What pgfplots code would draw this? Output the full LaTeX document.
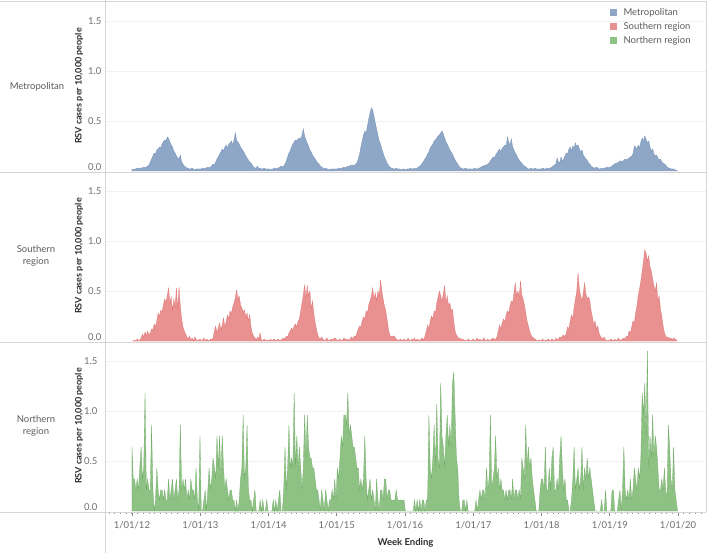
\documentclass[border=0pt]{standalone}
\usepackage{fontspec}
\setmainfont{Lato}
\usepackage{pgfplots}
\usepackage{pgfplotstable}
\pgfplotsset{compat=1.18}

\definecolor{metrofill}{RGB}{143,167,199}
\definecolor{metroline}{RGB}{118,145,182}
\definecolor{southfill}{RGB}{233,145,144}
\definecolor{southline}{RGB}{224,118,118}
\definecolor{northfill}{RGB}{142,194,133}
\definecolor{northline}{RGB}{112,172,102}
\definecolor{sepgray}{RGB}{214,214,214}
\definecolor{gridgray}{RGB}{242,242,242}
\definecolor{ticktext}{RGB}{110,110,110}
\definecolor{labeltext}{RGB}{90,90,90}
\definecolor{titletext}{RGB}{45,45,45}

% weekly values, week 0 = 1/01/12
\pgfplotstableread[header=false,row sep=\\]{
0.02\\0.01\\0.02\\0.02\\0.03\\0.02\\0.03\\0.03\\0.03\\0.04\\0.03\\0.04\\0.05\\0.06\\0.09\\0.12\\0.15\\0.18\\0.17\\0.21\\0.22\\0.24\\0.23\\0.27\\0.29\\0.31\\0.30\\0.34\\0.33\\0.29\\0.26\\0.24\\0.20\\0.18\\0.15\\0.13\\0.12\\0.16\\0.09\\0.07\\0.05\\0.04\\0.03\\0.03\\0.02\\0.02\\0.03\\0.02\\0.01\\0.02\\0.02\\0.02\\
0.02\\0.02\\0.03\\0.02\\0.03\\0.03\\0.04\\0.03\\0.04\\0.05\\0.07\\0.06\\0.09\\0.12\\0.14\\0.17\\0.19\\0.22\\0.20\\0.24\\0.26\\0.23\\0.27\\0.28\\0.30\\0.26\\0.31\\0.38\\0.31\\0.29\\0.27\\0.24\\0.22\\0.20\\0.18\\0.15\\0.13\\0.11\\0.09\\0.08\\0.06\\0.04\\0.03\\0.03\\0.05\\0.02\\0.03\\0.02\\0.02\\0.03\\0.02\\0.02\\
0.02\\0.02\\0.01\\0.02\\0.02\\0.03\\0.02\\0.03\\0.03\\0.04\\0.05\\0.04\\0.05\\0.07\\0.10\\0.14\\0.18\\0.20\\0.24\\0.27\\0.29\\0.31\\0.30\\0.32\\0.33\\0.32\\0.36\\0.42\\0.35\\0.31\\0.28\\0.25\\0.21\\0.19\\0.16\\0.14\\0.12\\0.10\\0.08\\0.07\\0.05\\0.04\\0.03\\0.02\\0.03\\0.02\\0.02\\0.01\\0.02\\0.02\\0.02\\0.02\\
0.02\\0.02\\0.03\\0.02\\0.03\\0.03\\0.04\\0.03\\0.04\\0.05\\0.04\\0.06\\0.05\\0.06\\0.05\\0.07\\0.08\\0.12\\0.17\\0.24\\0.30\\0.36\\0.40\\0.38\\0.45\\0.52\\0.58\\0.63\\0.61\\0.55\\0.48\\0.42\\0.36\\0.30\\0.27\\0.22\\0.18\\0.14\\0.11\\0.08\\0.06\\0.04\\0.03\\0.03\\0.02\\0.02\\0.03\\0.02\\0.02\\0.02\\0.01\\0.02\\
0.02\\0.01\\0.02\\0.02\\0.02\\0.03\\0.02\\0.02\\0.03\\0.02\\0.03\\0.04\\0.05\\0.06\\0.08\\0.10\\0.12\\0.14\\0.17\\0.19\\0.23\\0.25\\0.27\\0.30\\0.31\\0.33\\0.35\\0.36\\0.38\\0.40\\0.37\\0.33\\0.29\\0.27\\0.24\\0.21\\0.19\\0.17\\0.14\\0.11\\0.09\\0.07\\0.05\\0.03\\0.03\\0.02\\0.02\\0.03\\0.02\\0.02\\0.02\\0.02\\
0.02\\0.02\\0.03\\0.02\\0.02\\0.03\\0.03\\0.04\\0.05\\0.05\\0.06\\0.06\\0.07\\0.08\\0.10\\0.12\\0.14\\0.13\\0.16\\0.18\\0.20\\0.22\\0.19\\0.23\\0.24\\0.26\\0.25\\0.34\\0.29\\0.26\\0.32\\0.24\\0.21\\0.18\\0.16\\0.13\\0.11\\0.09\\0.08\\0.06\\0.05\\0.04\\0.03\\0.02\\0.02\\0.03\\0.02\\0.02\\0.03\\0.02\\0.02\\0.02\\
0.02\\0.02\\0.03\\0.02\\0.02\\0.03\\0.02\\0.03\\0.03\\0.04\\0.05\\0.06\\0.07\\0.13\\0.09\\0.08\\0.14\\0.10\\0.12\\0.15\\0.18\\0.17\\0.22\\0.24\\0.20\\0.25\\0.23\\0.28\\0.24\\0.26\\0.22\\0.19\\0.21\\0.16\\0.14\\0.12\\0.11\\0.08\\0.07\\0.05\\0.04\\0.03\\0.03\\0.04\\0.03\\0.02\\0.02\\0.03\\0.02\\0.03\\0.03\\0.04\\
0.03\\0.04\\0.04\\0.05\\0.06\\0.07\\0.08\\0.08\\0.09\\0.10\\0.10\\0.09\\0.11\\0.12\\0.11\\0.12\\0.13\\0.14\\0.15\\0.17\\0.25\\0.24\\0.22\\0.26\\0.23\\0.29\\0.33\\0.30\\0.35\\0.32\\0.28\\0.30\\0.24\\0.20\\0.22\\0.17\\0.15\\0.16\\0.13\\0.11\\0.12\\0.09\\0.08\\0.07\\0.06\\0.04\\0.03\\0.03\\0.02\\0.02\\0.02\\0.01\\0.01\\0.0\\
}\metro

\pgfplotstableread[header=false,row sep=\\]{
0.0\\0.0\\0.01\\0.0\\0.02\\0.0\\0.01\\0.03\\0.07\\0.04\\0.09\\0.05\\0.10\\0.06\\0.08\\0.12\\0.11\\0.17\\0.14\\0.20\\0.28\\0.24\\0.31\\0.29\\0.36\\0.42\\0.39\\0.45\\0.53\\0.38\\0.44\\0.30\\0.42\\0.34\\0.53\\0.31\\0.54\\0.35\\0.22\\0.14\\0.10\\0.07\\0.04\\0.02\\0.05\\0.01\\0.03\\0.0\\0.04\\0.02\\0.0\\0.01\\
0.02\\0.0\\0.01\\0.03\\0.0\\0.02\\0.01\\0.0\\0.02\\0.01\\0.03\\0.10\\0.15\\0.08\\0.13\\0.18\\0.11\\0.16\\0.23\\0.14\\0.19\\0.26\\0.22\\0.30\\0.27\\0.34\\0.38\\0.43\\0.51\\0.42\\0.45\\0.36\\0.33\\0.29\\0.31\\0.24\\0.28\\0.20\\0.26\\0.14\\0.08\\0.05\\0.03\\0.01\\0.04\\0.02\\0.08\\0.01\\0.0\\0.02\\0.01\\0.0\\
0.01\\0.0\\0.02\\0.0\\0.01\\0.02\\0.0\\0.01\\0.02\\0.0\\0.01\\0.02\\0.03\\0.02\\0.05\\0.04\\0.08\\0.10\\0.13\\0.11\\0.15\\0.17\\0.14\\0.20\\0.22\\0.30\\0.38\\0.46\\0.56\\0.43\\0.55\\0.45\\0.50\\0.32\\0.40\\0.28\\0.19\\0.12\\0.06\\0.03\\0.02\\0.04\\0.02\\0.0\\0.01\\0.03\\0.01\\0.0\\0.02\\0.01\\0.02\\0.03\\
0.02\\0.0\\0.01\\0.02\\0.0\\0.01\\0.03\\0.02\\0.01\\0.02\\0.0\\0.03\\0.04\\0.02\\0.05\\0.04\\0.08\\0.12\\0.15\\0.14\\0.20\\0.24\\0.22\\0.30\\0.28\\0.36\\0.40\\0.45\\0.53\\0.42\\0.48\\0.40\\0.50\\0.45\\0.61\\0.50\\0.42\\0.35\\0.30\\0.22\\0.12\\0.06\\0.04\\0.05\\0.05\\0.04\\0.02\\0.01\\0.0\\0.02\\0.01\\0.0\\
0.02\\0.01\\0.0\\0.03\\0.01\\0.0\\0.02\\0.01\\0.03\\0.0\\0.02\\0.01\\0.0\\0.02\\0.03\\0.01\\0.05\\0.10\\0.16\\0.12\\0.20\\0.25\\0.22\\0.30\\0.28\\0.38\\0.44\\0.50\\0.45\\0.40\\0.47\\0.55\\0.38\\0.45\\0.35\\0.38\\0.30\\0.32\\0.20\\0.10\\0.06\\0.04\\0.02\\0.03\\0.01\\0.02\\0.0\\0.01\\0.0\\0.02\\0.01\\0.0\\
0.01\\0.02\\0.0\\0.01\\0.03\\0.0\\0.02\\0.0\\0.01\\0.03\\0.01\\0.0\\0.02\\0.0\\0.01\\0.02\\0.03\\0.01\\0.02\\0.04\\0.10\\0.16\\0.12\\0.18\\0.22\\0.19\\0.26\\0.30\\0.28\\0.35\\0.40\\0.38\\0.48\\0.58\\0.45\\0.50\\0.44\\0.60\\0.46\\0.42\\0.36\\0.28\\0.20\\0.15\\0.10\\0.06\\0.04\\0.03\\0.02\\0.01\\0.0\\0.01\\
0.0\\0.01\\0.02\\0.0\\0.01\\0.0\\0.02\\0.01\\0.0\\0.02\\0.01\\0.0\\0.03\\0.01\\0.02\\0.04\\0.03\\0.05\\0.06\\0.04\\0.08\\0.14\\0.12\\0.20\\0.26\\0.22\\0.34\\0.42\\0.50\\0.68\\0.52\\0.45\\0.40\\0.48\\0.58\\0.47\\0.42\\0.44\\0.40\\0.30\\0.24\\0.16\\0.20\\0.12\\0.15\\0.08\\0.05\\0.03\\0.02\\0.04\\0.01\\0.0\\
0.01\\0.0\\0.02\\0.01\\0.0\\0.02\\0.0\\0.01\\0.03\\0.0\\0.01\\0.02\\0.03\\0.02\\0.05\\0.04\\0.10\\0.08\\0.14\\0.20\\0.18\\0.28\\0.35\\0.45\\0.52\\0.60\\0.70\\0.80\\0.91\\0.88\\0.80\\0.85\\0.74\\0.70\\0.62\\0.55\\0.50\\0.58\\0.40\\0.45\\0.32\\0.25\\0.15\\0.08\\0.05\\0.03\\0.04\\0.02\\0.03\\0.01\\0.03\\0.02\\0.01\\0.0\\
}\south

\pgfplotstableread[header=false,row sep=\\]{
0.64\\0.32\\0.32\\0.21\\0.32\\0.21\\0.43\\0.64\\0.32\\0.43\\
1.18\\0.21\\0.32\\0.21\\0.21\\0.86\\0.21\\0.0\\0.11\\0.43\\
0.21\\0.11\\0.21\\0.21\\0.11\\0.21\\0.11\\0.11\\0.32\\0.11\\
0.21\\0.32\\0.11\\0.21\\0.32\\0.11\\0.21\\0.86\\0.21\\0.32\\
0.21\\0.32\\0.11\\0.21\\0.11\\0.32\\0.21\\0.21\\0.11\\0.43\\
0.11\\0.0\\0.75\\0.0\\0.0\\0.11\\0.21\\0.0\\0.21\\0.43\\
0.21\\0.32\\0.53\\0.43\\0.32\\0.75\\0.43\\0.75\\0.32\\0.75\\
0.43\\0.21\\0.32\\0.21\\0.11\\0.21\\0.21\\0.11\\0.11\\0.0\\
0.11\\0.0\\0.11\\0.32\\0.43\\0.96\\0.32\\0.43\\0.86\\0.21\\
0.11\\0.11\\0.0\\0.11\\0.21\\0.0\\0.0\\0.0\\0.11\\0.0\\
0.11\\0.0\\0.0\\0.11\\0.0\\0.0\\0.0\\0.0\\0.11\\0.0\\
0.11\\0.0\\0.11\\0.21\\0.0\\0.0\\0.21\\0.64\\0.21\\0.43\\
0.86\\0.43\\0.53\\0.43\\1.18\\0.43\\0.75\\0.43\\0.64\\0.43\\
0.21\\0.43\\0.96\\0.53\\0.96\\0.64\\0.53\\0.53\\0.43\\0.43\\
0.32\\0.21\\0.21\\0.11\\0.0\\0.21\\0.11\\0.0\\0.21\\0.11\\
0.0\\0.11\\0.11\\0.21\\0.11\\0.32\\0.11\\0.43\\0.32\\0.53\\
0.75\\0.64\\0.96\\0.96\\0.86\\1.18\\0.75\\0.86\\0.75\\0.64\\
0.64\\0.53\\0.43\\0.43\\0.21\\0.32\\0.21\\0.32\\0.75\\0.32\\
0.11\\0.21\\0.32\\0.11\\0.21\\0.11\\0.0\\0.32\\0.11\\0.0\\
0.21\\0.21\\0.11\\0.32\\0.32\\0.11\\0.21\\0.21\\0.11\\0.11\\
0.11\\0.11\\0.21\\0.11\\0.11\\0.11\\0.11\\0.11\\0.11\\0.0\\
0.0\\0.0\\0.0\\0.0\\0.0\\0.0\\0.11\\0.0\\0.11\\0.0\\
0.11\\0.0\\0.11\\0.11\\0.0\\0.11\\0.11\\0.96\\0.43\\0.32\\
0.53\\0.86\\0.43\\1.07\\0.53\\0.43\\1.28\\0.75\\0.64\\0.43\\
0.75\\0.96\\0.64\\0.86\\0.64\\1.28\\1.39\\0.96\\0.53\\0.43\\
0.11\\0.0\\0.0\\0.11\\0.11\\0.0\\0.11\\0.0\\0.0\\0.0\\
0.0\\0.0\\0.0\\0.11\\0.0\\0.11\\0.21\\0.11\\0.21\\0.21\\
0.11\\0.43\\0.21\\0.32\\0.96\\0.21\\0.32\\0.43\\0.75\\0.32\\
0.43\\0.21\\0.32\\0.21\\0.21\\0.11\\0.21\\0.11\\0.21\\0.21\\
0.11\\0.32\\0.11\\0.21\\0.21\\0.11\\0.21\\0.11\\0.53\\0.43\\
0.32\\0.86\\0.43\\0.64\\0.43\\0.53\\0.32\\0.21\\0.11\\0.0\\
0.0\\0.0\\0.21\\0.32\\0.32\\0.21\\0.64\\0.21\\0.21\\0.43\\
0.21\\0.53\\0.64\\0.21\\0.21\\0.32\\0.21\\0.53\\0.75\\0.43\\
0.21\\0.32\\0.11\\0.11\\0.0\\0.0\\0.11\\0.32\\0.64\\0.21\\
0.32\\0.43\\0.21\\0.32\\0.64\\0.21\\0.43\\0.32\\0.53\\0.32\\
0.43\\0.32\\0.21\\0.11\\0.0\\0.0\\0.0\\0.0\\0.0\\0.11\\
0.0\\0.0\\0.21\\0.0\\0.0\\0.0\\0.0\\0.21\\0.21\\0.0\\
0.0\\0.0\\0.11\\0.21\\0.0\\0.21\\0.64\\0.21\\0.11\\0.21\\
0.11\\0.32\\0.11\\0.21\\0.43\\0.32\\0.21\\0.43\\0.32\\0.53\\
1.18\\0.96\\1.28\\0.75\\1.60\\0.43\\0.75\\0.53\\0.96\\0.53\\
0.75\\0.64\\0.43\\0.21\\0.21\\0.32\\0.21\\0.43\\0.21\\0.11\\
0.86\\0.64\\0.32\\0.21\\0.64\\0.21\\0.11\\0.0\\
}\north

\pgfplotsset{panel/.style={
  scale only axis, width=601pt, height=170pt, anchor=south west,
  xmin=-20.6, xmax=438.8, ymin=-0.01, ymax=1.69,
  axis line style={draw=none},
  tick pos=left,
  ytick={0.5,1,1.5}, yticklabels={0.5,1.0,1.5},
  extra y ticks={0}, extra y tick labels={0.0},
  extra y tick style={grid=none, yticklabel style={yshift=4pt}},
  ymajorgrids, grid style={gridgray, line width=0.6pt},
  ytick style={draw=none},
  yticklabel style={font=\fontsize{9.5}{11}\selectfont, text=ticktext},
  xtick=\empty,
}}

\begin{document}
\begin{tikzpicture}
\useasboundingbox (0,0) rectangle (709pt,-553pt);

\begin{axis}[panel, at={(105pt,-172pt)}]
\addplot[fill=metrofill, draw=metroline, line width=0.3pt] table[x expr=\coordindex, y index=0] {\metro} \closedcycle;
\end{axis}

\begin{axis}[panel, at={(105pt,-342pt)}]
\addplot[fill=southfill, draw=southline, line width=0.3pt] table[x expr=\coordindex, y index=0] {\south} \closedcycle;
\end{axis}

\begin{axis}[panel, at={(105pt,-512pt)},
  xtick={0,52.29,104.43,156.57,208.71,261,313.14,365.29,417.43},
  xticklabels={1/01/12,1/01/13,1/01/14,1/01/15,1/01/16,1/01/17,1/01/18,1/01/19,1/01/20},
  minor xtick={-17.39,-13.04,...,436},
  tick align=outside,
  major tick length=4pt, minor tick length=1.8pt,
  xtick style={draw=gray!90, line width=0.7pt},
  minor x tick style={draw=gray!85, line width=1pt},
  xticklabel style={font=\fontsize{9.5}{11}\selectfont, text=ticktext, yshift=-2pt},
]
\addplot[fill=northfill, draw=northline, line width=0.3pt] table[x expr=\coordindex, y index=0] {\north} \closedcycle;
\end{axis}

% frame / separators
\draw[sepgray, line width=0.8pt] (0,-1.5pt) -- (706pt,-1.5pt);
\draw[sepgray, line width=0.8pt] (0,-172pt) -- (706pt,-172pt);
\draw[sepgray, line width=0.8pt] (0,-342pt) -- (706pt,-342pt);
\draw[sepgray, line width=0.8pt] (0,-512pt) -- (706pt,-512pt);
\draw[sepgray, line width=0.8pt] (105pt,0) -- (105pt,-553pt);
\draw[sepgray, line width=0.8pt] (706pt,-1.5pt) -- (706pt,-512pt);

% row labels
\node[text=labeltext, font=\fontsize{9.5}{12}\selectfont] at (37pt,-87pt) {Metropolitan};
\node[text=labeltext, font=\fontsize{9.5}{12}\selectfont, align=center] at (36pt,-256pt) {Southern\\region};
\node[text=labeltext, font=\fontsize{9.5}{12}\selectfont, align=center] at (36pt,-426pt) {Northern\\region};

% axis titles
\foreach \yc in {86,256,426}{
  \node[rotate=90, text=titletext, font=\bfseries\fontsize{9}{11}\selectfont] at (79pt,-\yc pt) {RSV cases per 10,000 people};
}
\node[text=titletext, font=\bfseries\fontsize{9.5}{11}\selectfont] at (405.5pt,-543pt) {Week Ending};

% legend
\fill[metrofill] (610pt,-9pt) rectangle (617pt,-16pt);
\fill[southfill] (610pt,-23pt) rectangle (617pt,-30pt);
\fill[northfill] (610pt,-37pt) rectangle (617pt,-44pt);
\node[anchor=west, text=labeltext, font=\fontsize{9.5}{11}\selectfont] at (620pt,-13pt) {Metropolitan};
\node[anchor=west, text=labeltext, font=\fontsize{9.5}{11}\selectfont] at (620pt,-27pt) {Southern region};
\node[anchor=west, text=labeltext, font=\fontsize{9.5}{11}\selectfont] at (620pt,-41pt) {Northern region};
\end{tikzpicture}
\end{document}
